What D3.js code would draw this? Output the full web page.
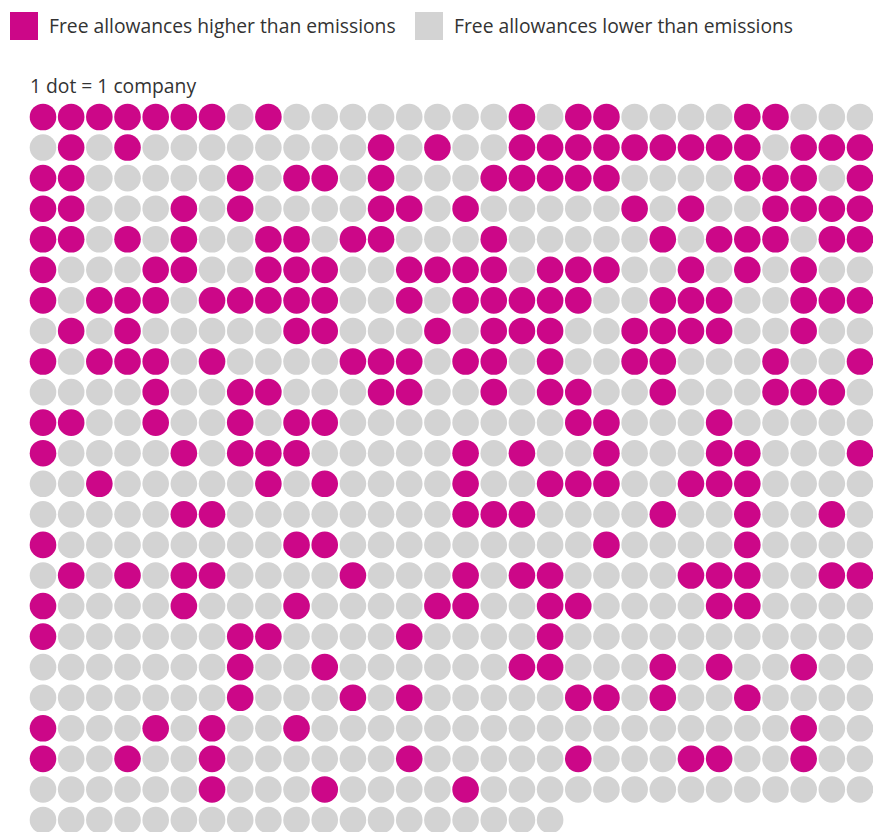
<!DOCTYPE html>
<html>
<head>
<meta charset="utf-8">
<script src="https://cdn.jsdelivr.net/npm/d3@7"></script>
<style>
  html, body { margin: 0; padding: 0; background: #fff; }
  svg { display: block; }
  text { font-family: "Open Sans", sans-serif; }
</style>
</head>
<body>
<div id="chart"></div>
<script>
// Category labels and their colours
const categories = ["Free allowances higher than emissions", "Free allowances lower than emissions"];
const categoryColors = ["#cc0788", "#d3d3d3"];
const unitNote = "1 dot = 1 company";

// One character per company, in order: 1 = allowances higher, 0 = lower
const companyRows = [
  "111111101000000001011000011000",
  "010100000000101001111111110111",
  "110000010110100011111000011101",
  "110001010000110100000101001111",
  "110101001101100010000010111011",
  "100011001110011110111001010100",
  "101110111110010111110011100111",
  "010100000110001011100111100100",
  "101110100001110110100110001001",
  "000010011000110010110010001110",
  "110010010110000000011000100000",
  "100001011100000101001000110001",
  "001000001010000100111001110000",
  "000001100000000111000010010010",
  "100000000110000000001000010000",
  "010101100001000101100001110011",
  "100001000100001100110000110000",
  "100000011000010000100000000000",
  "000000010010000001100010100100",
  "000000010001010000011010010000",
  "100010100100000000000000000100",
  "100100100000010000010001100100",
  "000000100010000100000000000000",
  "0000000000000000000"
];

const perRow = 30;
const companies = companyRows.join("").split("").map((s, i) => ({
  id: i,
  higher: s === "1",
  col: i % perRow,
  row: Math.floor(i / perRow)
}));
const nRows = d3.max(companies, d => d.row) + 1;

const width = 873, height = 832;
const svg = d3.select("#chart").append("svg")
  .attr("width", width)
  .attr("height", height);

// Legend
const legend = svg.append("g");
const legendX = [10, 415];
categories.forEach((label, i) => {
  const g = legend.append("g").attr("transform", `translate(${legendX[i]},12)`);
  g.append("rect")
    .attr("width", 28).attr("height", 28)
    .attr("fill", categoryColors[i]);
  g.append("text")
    .attr("x", 39).attr("y", 21)
    .attr("font-size", 19.3)
    .attr("fill", "#333")
    .text(label);
});

svg.append("text")
  .attr("x", 30).attr("y", 93)
  .attr("font-size", 19.3)
  .attr("fill", "#333")
  .text(unitNote);

// Dot grid
const x = d3.scalePoint().domain(d3.range(perRow)).range([43, 860]);
const y = d3.scalePoint().domain(d3.range(nRows)).range([117, 820]);
const color = d3.scaleOrdinal().domain([true, false]).range(categoryColors);

svg.append("g")
  .selectAll("circle")
  .data(companies)
  .join("circle")
  .attr("cx", d => x(d.col))
  .attr("cy", d => y(d.row))
  .attr("r", 13.3)
  .attr("fill", d => color(d.higher));
</script>
</body>
</html>
